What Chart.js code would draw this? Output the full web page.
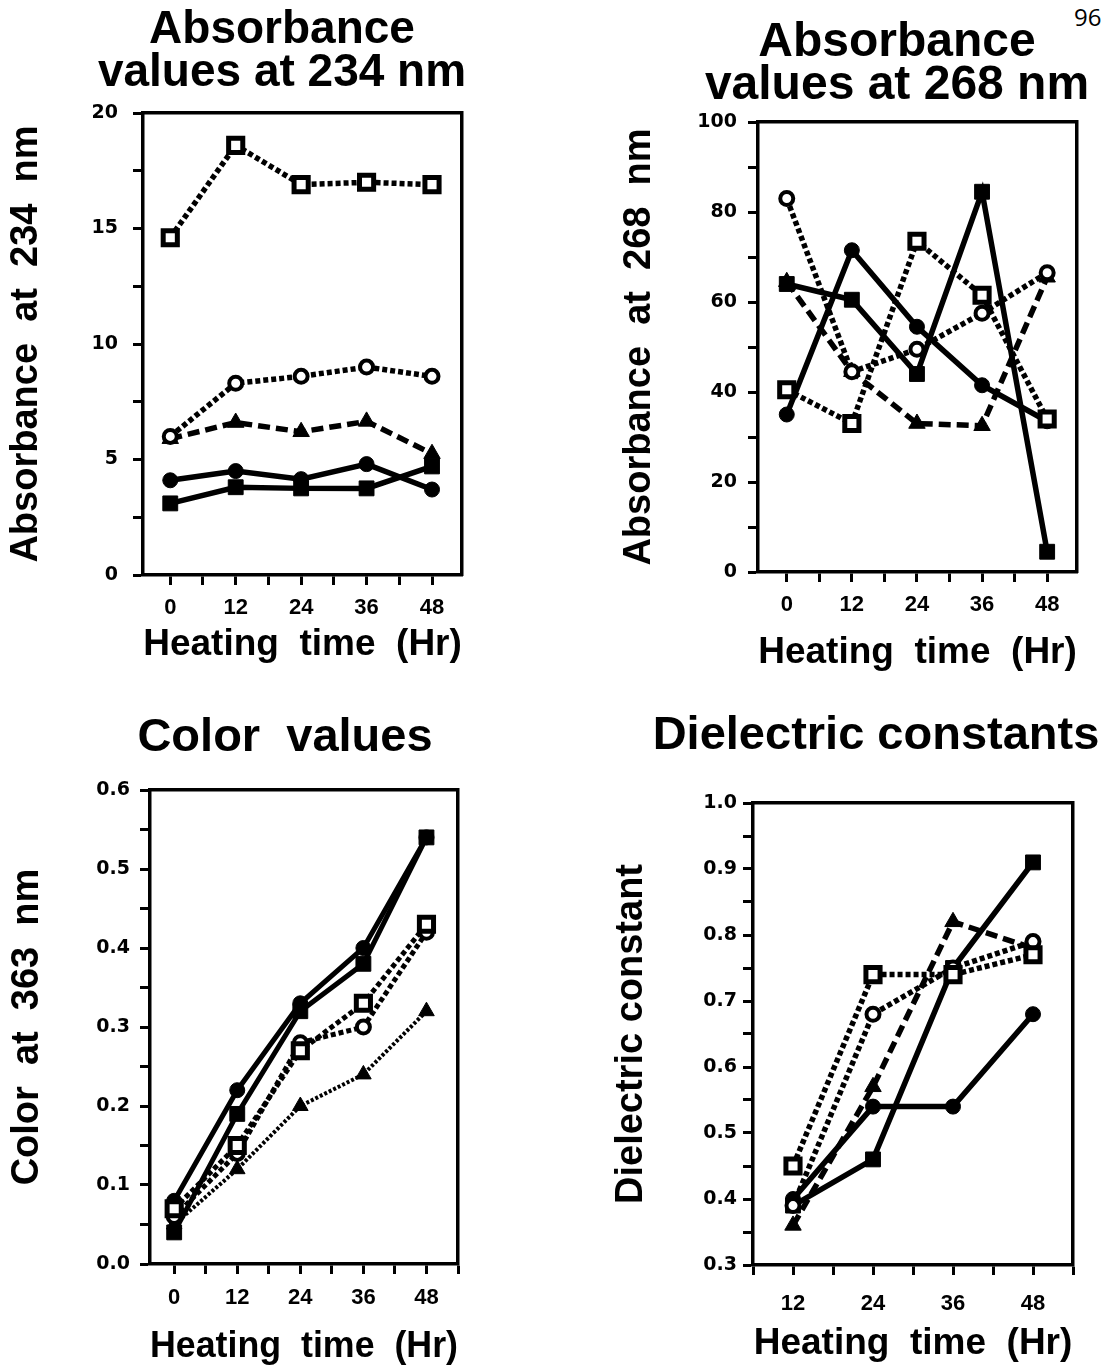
<!DOCTYPE html>
<html>
<head>
<meta charset="utf-8">
<script src="https://cdn.jsdelivr.net/npm/chart.js"></script>
<style>
    html, body { margin: 0; padding: 0; background: #fff; overflow: hidden; width: 1112px; height: 1369px; }
    canvas { position: absolute; }
    #pageNo { position: absolute; left: 1074px; top: 0px; font: 24px 'Open Sans'; color: #000; }
</style>
</head>
<body>
<div id="pageNo">96</div>
<canvas id="abs234"></canvas>
<canvas id="abs268"></canvas>
<canvas id="color363"></canvas>
<canvas id="dielectric"></canvas>
<script>
// heating times
const hours = [0, 12, 24, 36, 48];
const hoursDielectric = [12, 24, 36, 48];

// tick labels
const hourTicks = [0, 12, 24, 36, 48];
const hourTicksDielectric = [12, 24, 36, 48];
const abs234Ticks = [0, 5, 10, 15, 20];
const abs268Ticks = [0, 20, 40, 60, 80, 100];
const colorTicks = [0.0, 0.1, 0.2, 0.3, 0.4, 0.5, 0.6];
const dielectricTicks = [0.3, 0.4, 0.5, 0.6, 0.7, 0.8, 0.9, 1.0];

// Absorbance at 234 nm
const abs234SolidCircle = [4.1, 4.5, 4.15, 4.8, 3.7];
const abs234SolidSquare = [3.1, 3.8, 3.75, 3.75, 4.7];
const abs234DashedTriangle = [5.9, 6.6, 6.2, 6.65, 5.25];
const abs234DottedCircle = [6.0, 8.3, 8.6, 9.0, 8.6];
const abs234DottedSquare = [14.6, 18.6, 16.9, 17.0, 16.9];

// Absorbance at 268 nm
const abs268SolidCircle = [35, 71.5, 54.5, 41.5, 33.5];
const abs268SolidSquare = [64, 60.5, 44, 84.5, 4.5];
const abs268DashedTriangle = [64.5, 44.5, 33, 32.5, 65.5];
const abs268DottedCircle = [83, 44.5, 49.5, 57.5, 66.5];
const abs268DottedSquare = [40.5, 33, 73.5, 61.5, 34];

// Color at 363 nm
const colorSolidCircle = [0.08, 0.22, 0.33, 0.40, 0.54];
const colorSolidSquare = [0.04, 0.19, 0.32, 0.38, 0.54];
const colorDottedTriangle = [0.05, 0.12, 0.20, 0.24, 0.32];
const colorDottedCircle = [0.06, 0.14, 0.28, 0.30, 0.42];
const colorDottedSquare = [0.07, 0.15, 0.27, 0.33, 0.43];

// Dielectric constant
const dielSolidCircle = [0.40, 0.54, 0.54, 0.68];
const dielSolidSquare = [0.39, 0.46, 0.75, 0.91];
const dielDashedTriangle = [0.36, 0.57, 0.82, 0.78];
const dielDottedCircle = [0.39, 0.68, 0.75, 0.79];
const dielDottedSquare = [0.45, 0.74, 0.74, 0.77];

const TITLE_FONT = "'Liberation Sans', Arial, sans-serif";
const TICK_FONT = "'DejaVu Sans', sans-serif";

const lineStyles = {
    solidCircle: { dash: [], point: 'circle', fill: '#000', radius: 7.5, bw: 1 },
    solidSquare: { dash: [], point: 'rect', fill: '#000', radius: 10.5, bw: 1 },
    dashedTriangle: { dash: [12, 6], point: 'triangle', fill: '#000', radius: 9.5, bw: 1 },
    thinTriangle: { dash: [3, 2], point: 'triangle', fill: '#000', radius: 9, bw: 1, width: 4 },
    dottedCircle: { dash: [5, 3], point: 'circle', fill: '#fff', radius: 6.5, bw: 4 },
    dottedSquare: { dash: [5, 3], point: 'rect', fill: '#fff', radius: 10, bw: 5 },
};

function makeDataset(xs, ys, styleName, width) {
    const st = lineStyles[styleName];
    return {
        data: xs.map((x, i) => ({ x: x, y: ys[i] })),
        borderColor: '#000',
        borderWidth: st.width || width,
        borderDash: st.dash,
        borderCapStyle: 'butt',
        pointStyle: st.point,
        pointRadius: st.radius,
        pointBackgroundColor: st.fill,
        pointBorderColor: '#000',
        pointBorderWidth: st.bw,
        tension: 0,
        fill: false,
    };
}

// major ticks + minor ticks half way between
function tickValues(majors, min, max) {
    const half = (majors[1] - majors[0]) / 2;
    let v = majors[0];
    while (v - half >= min - 1e-9) v -= half;
    const out = [];
    for (; v <= max + 1e-9; v += half) out.push(Math.round(v * 1e6) / 1e6);
    return out;
}

function isMajor(majors, v) {
    return majors.some(m => Math.abs(m - v) < 1e-6);
}

function makeChart(id, cfg) {
    const canvas = document.getElementById(id);
    const box = cfg.box;
    canvas.width = box.width;
    canvas.height = box.height;
    canvas.style.left = box.left + 'px';
    canvas.style.top = box.top + 'px';
    canvas.style.width = box.width + 'px';
    canvas.style.height = box.height + 'px';

    const p = cfg.plot;
    const yW = p.left - box.left;
    const rightW = box.left + box.width - p.right;
    const xH = box.top + box.height - p.bottom;
    const xVals = tickValues(cfg.xMajor, cfg.xMin, cfg.xMax);
    const yVals = tickValues(cfg.yMajor, cfg.yMin, cfg.yMax);

    const axisBorder = { display: true, width: 3.5, color: '#000' };
    const tickGrid = { drawOnChartArea: false, drawTicks: true, tickLength: 10, tickWidth: 3, tickColor: '#000' };

    return new Chart(canvas, {
        type: 'line',
        data: { datasets: cfg.datasets },
        options: {
            responsive: false,
            animation: false,
            events: [],
            layout: { padding: 0 },
            plugins: {
                legend: { display: false },
                tooltip: { enabled: false },
                title: {
                    display: true,
                    text: cfg.title.text,
                    color: '#000',
                    font: { family: TITLE_FONT, weight: 'bold', size: cfg.title.size, lineHeight: cfg.title.lineHeight / cfg.title.size },
                    padding: { top: cfg.title.padTop, bottom: cfg.title.padBottom },
                },
            },
            scales: {
                x: {
                    type: 'linear',
                    position: 'bottom',
                    min: cfg.xMin,
                    max: cfg.xMax,
                    afterBuildTicks: (s) => { s.ticks = xVals.map(v => ({ value: v })); },
                    afterFit: (s) => { s.height = xH; },
                    ticks: {
                        autoSkip: false,
                        maxRotation: 0,
                        color: '#000',
                        padding: cfg.xTickPad,
                        font: { family: TITLE_FONT, weight: 'bold', size: 22 },
                        callback: (v) => isMajor(cfg.xMajor, v) ? String(v) : '',
                    },
                    grid: tickGrid,
                    border: axisBorder,
                    title: {
                        display: true,
                        text: 'Heating  time  (Hr)',
                        color: '#000',
                        font: { family: TITLE_FONT, weight: 'bold', size: 37, lineHeight: 1.2 },
                        padding: { top: 0, bottom: cfg.xTitlePad },
                    },
                },
                y: {
                    type: 'linear',
                    position: 'left',
                    min: cfg.yMin,
                    max: cfg.yMax,
                    afterBuildTicks: (s) => { s.ticks = yVals.map(v => ({ value: v })); },
                    afterFit: (s) => { s.width = yW; },
                    ticks: {
                        autoSkip: false,
                        color: '#000',
                        padding: cfg.yTickPad,
                        font: { family: TICK_FONT, weight: 'bold', size: 19 },
                        callback: (v) => isMajor(cfg.yMajor, v) ? cfg.yFmt(v) : '',
                    },
                    grid: tickGrid,
                    border: axisBorder,
                    title: {
                        display: true,
                        text: cfg.yTitle,
                        color: '#000',
                        font: { family: TITLE_FONT, weight: 'bold', size: 38, lineHeight: 1.2 },
                        padding: { top: cfg.yTitlePad, bottom: 0 },
                    },
                },
                // top and right frame of the box
                xTop: {
                    type: 'linear',
                    position: 'top',
                    afterFit: (s) => { s.height = 0; },
                    ticks: { display: false },
                    grid: { drawOnChartArea: false, drawTicks: false },
                    border: axisBorder,
                },
                yRight: {
                    type: 'linear',
                    position: 'right',
                    afterFit: (s) => { s.width = rightW; },
                    ticks: { display: false },
                    grid: { drawOnChartArea: false, drawTicks: false },
                    border: axisBorder,
                },
            },
        },
    });
}

const fmtInt = (v) => String(v);
const fmtOne = (v) => v.toFixed(1);

makeChart('abs234', {
    box: { left: 0, top: 0, width: 564, height: 680 },
    plot: { left: 143, right: 462, top: 113, bottom: 575 },
    title: { text: ['Absorbance', 'values at 234 nm'], size: 46, lineHeight: 43, padTop: 9, padBottom: 18 },
    xMin: -5, xMax: 53.5, xMajor: hourTicks, xTickPad: 10, xTitlePad: 13,
    yMin: 0, yMax: 20, yMajor: abs234Ticks, yFmt: fmtInt, yTickPad: 15,
    yTitle: 'Absorbance  at  234  nm', yTitlePad: 4,
    datasets: [
        makeDataset(hours, abs234DottedSquare, 'dottedSquare', 5.5),
        makeDataset(hours, abs234DottedCircle, 'dottedCircle', 5.5),
        makeDataset(hours, abs234DashedTriangle, 'dashedTriangle', 5.5),
        makeDataset(hours, abs234SolidCircle, 'solidCircle', 5.5),
        makeDataset(hours, abs234SolidSquare, 'solidSquare', 5.5),
    ],
});

makeChart('abs268', {
    box: { left: 600, top: 0, width: 594, height: 690 },
    plot: { left: 758, right: 1077, top: 122, bottom: 572 },
    title: { text: ['Absorbance', 'values at 268 nm'], size: 48, lineHeight: 43, padTop: 21, padBottom: 15 },
    xMin: -5.3, xMax: 53.5, xMajor: hourTicks, xTickPad: 10, xTitlePad: 15,
    yMin: 0, yMax: 100, yMajor: abs268Ticks, yFmt: fmtInt, yTickPad: 11,
    yTitle: 'Absorbance  at  268  nm', yTitlePad: 17,
    datasets: [
        makeDataset(hours, abs268DottedSquare, 'dottedSquare', 5.5),
        makeDataset(hours, abs268DottedCircle, 'dottedCircle', 5.5),
        makeDataset(hours, abs268DashedTriangle, 'dashedTriangle', 5.5),
        makeDataset(hours, abs268SolidCircle, 'solidCircle', 5.5),
        makeDataset(hours, abs268SolidSquare, 'solidSquare', 5.5),
    ],
});

makeChart('color363', {
    box: { left: 0, top: 690, width: 570, height: 679 },
    plot: { left: 150, right: 458, top: 790, bottom: 1264 },
    title: { text: 'Color  values', size: 47, lineHeight: 50, padTop: 23, padBottom: 27 },
    xMin: -4.6, xMax: 54, xMajor: hourTicks, xTickPad: 11, xTitlePad: 0,
    yMin: 0, yMax: 0.6, yMajor: colorTicks, yFmt: fmtOne, yTickPad: 10,
    yTitle: 'Color  at  363  nm', yTitlePad: 5,
    datasets: [
        makeDataset(hours, colorDottedSquare, 'dottedSquare', 5),
        makeDataset(hours, colorDottedCircle, 'dottedCircle', 5),
        makeDataset(hours, colorDottedTriangle, 'thinTriangle', 4),
        makeDataset(hours, colorSolidCircle, 'solidCircle', 5),
        makeDataset(hours, colorSolidSquare, 'solidSquare', 5),
    ],
});

makeChart('dielectric', {
    box: { left: 600, top: 690, width: 552, height: 679 },
    plot: { left: 753, right: 1073, top: 803, bottom: 1265 },
    title: { text: 'Dielectric constants', size: 47, lineHeight: 50, padTop: 21, padBottom: 42 },
    xMin: 6, xMax: 54, xMajor: hourTicksDielectric, xTickPad: 16, xTitlePad: 3,
    yMin: 0.3, yMax: 1.0, yMajor: dielectricTicks, yFmt: fmtOne, yTickPad: 6,
    yTitle: 'Dielectric constant', yTitlePad: 9,
    datasets: [
        makeDataset(hoursDielectric, dielDottedSquare, 'dottedSquare', 5.5),
        makeDataset(hoursDielectric, dielDottedCircle, 'dottedCircle', 5.5),
        makeDataset(hoursDielectric, dielDashedTriangle, 'dashedTriangle', 5.5),
        makeDataset(hoursDielectric, dielSolidCircle, 'solidCircle', 5.5),
        makeDataset(hoursDielectric, dielSolidSquare, 'solidSquare', 5.5),
    ],
});
</script>
</body>
</html>
